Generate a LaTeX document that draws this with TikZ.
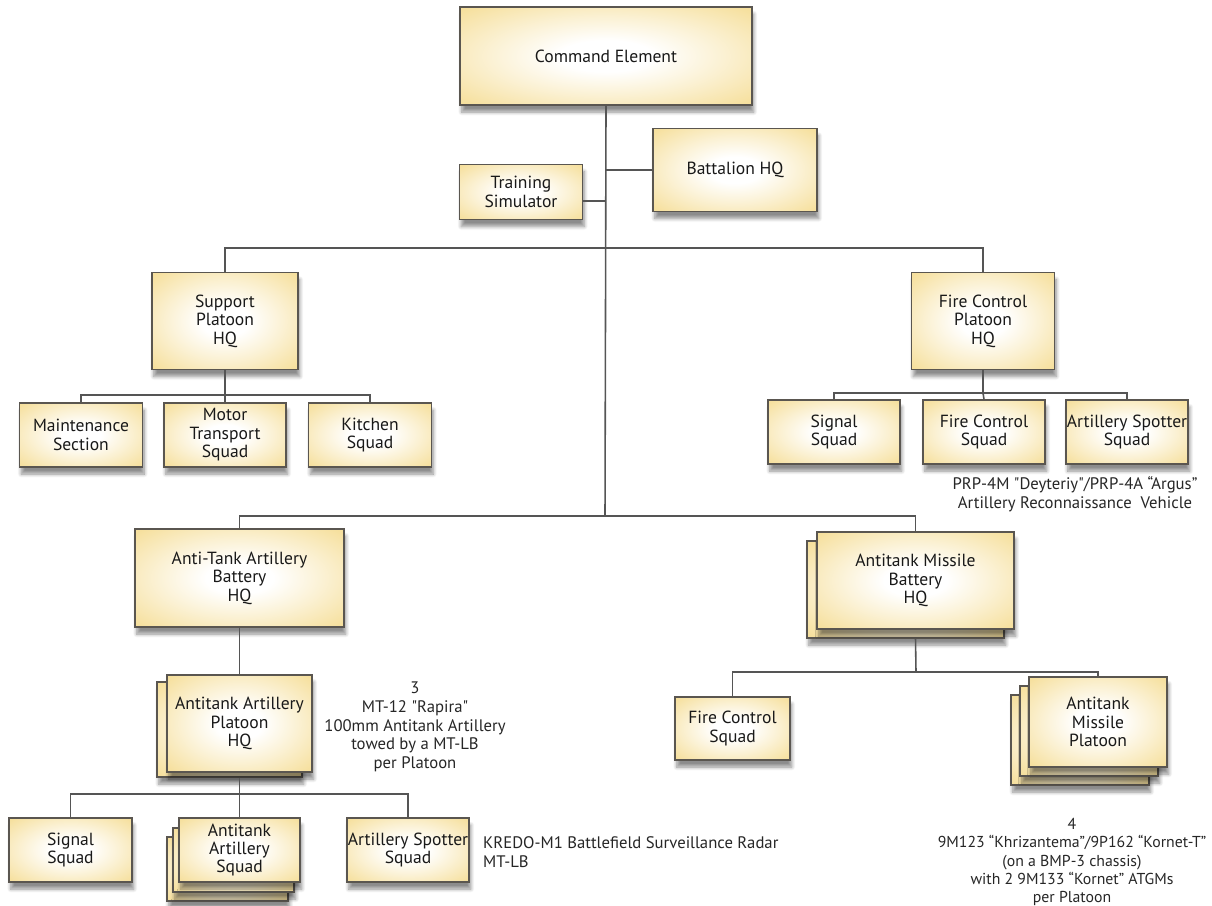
\documentclass[tikz,border=0pt]{standalone}
\usepackage{fontspec}
\setmainfont{PT Sans}
\usetikzlibrary{shadows.blur}
\definecolor{boxfill}{RGB}{246,224,158}
\definecolor{boxline}{RGB}{90,86,80}
\definecolor{wire}{RGB}{85,85,85}
\pgfdeclareradialshading{boxglow}{\pgfpoint{0bp}{0bp}}{color(0bp)=(white); color(8bp)=(white); color(20bp)=(white!55!boxfill); color(34bp)=(boxfill); color(50bp)=(boxfill)}

\begin{document}
\begin{tikzpicture}[
    x=0.02cm, y=-0.02cm,
    sz/.style 2 args={minimum width=#1*0.02cm, minimum height=#2*0.02cm},
    unit/.style={draw=boxline, line width=0.8pt, shading=boxglow, align=center, inner sep=0.5pt, font=\fontsize{10}{10.5}\selectfont, text=black!90, blur shadow={shadow xshift=1pt, shadow yshift=-4pt, shadow blur steps=8, shadow opacity=45}},
    link/.style={draw=wire, line width=0.9pt},
    note/.style={align=center, font=\fontsize{9.5}{10.6}\selectfont, text=black!85}
]
\useasboundingbox (0,0) rectangle (1212,905);

% top
\node[unit, sz={292}{98}] (cmd) at (606,56) {Command Element};
\node[unit, sz={164}{83}] (bhq) at (735,170) {Battalion HQ};
\node[unit, sz={123}{55}] (trs) at (521,192) {Training\\Simulator};

% support platoon
\node[unit, sz={146}{97}] (sup) at (225,321) {Support\\Platoon\\HQ};
\node[unit, sz={123}{64}] (mnt) at (81,435) {Maintenance\\Section};
\node[unit, sz={122}{64}] (mts) at (225,435) {Motor\\Transport\\Squad};
\node[unit, sz={123}{64}] (kit) at (370,435) {Kitchen\\Squad};

% fire control platoon
\node[unit, sz={143}{97}] (fcp) at (983,321) {Fire Control\\Platoon\\HQ};
\node[unit, sz={132}{64}] (sig1) at (834,432) {Signal\\Squad};
\node[unit, sz={122}{64}] (fcs1) at (984,432) {Fire Control\\Squad};
\node[unit, sz={121}{64}] (spt1) at (1127,432) {Artillery Spotter\\Squad};
\node[note] (prp) at (1075,494) {PRP-4M \textquotedbl Deyteriy\textquotedbl/PRP-4A “Argus”\\Artillery Reconnaissance\ \ Vehicle};

% anti-tank artillery battery
\node[unit, sz={209}{98}] (atb) at (239.5,578) {Anti-Tank Artillery\\Battery\\HQ};
\node[unit, sz={145}{95}] (atp-b1) at (229.5,729.5) {};
\node[unit, sz={145}{97}] (atp) at (239.5,723.5) {Antitank Artillery\\Platoon\\HQ};
\node[note] (mt12) at (415,727) {3\\MT-12 \textquotedbl Rapira\textquotedbl\\100mm Antitank Artillery\\towed by a MT-LB\\per Platoon};
\node[unit, sz={123}{64}] (sig2) at (70.5,850) {Signal\\Squad};
\node[unit, sz={121}{64}] (ats-b2) at (227.5,869) {};
\node[unit, sz={121}{64}] (ats-b1) at (233.5,860) {};
\node[unit, sz={121}{64}] (ats) at (239.5,850) {Antitank\\Artillery\\Squad};
\node[unit, sz={122}{64}] (spt2) at (408,850) {Artillery Spotter\\Squad};
\node[note, align=left, anchor=west] (kredo) at (477,852) {KREDO-M1 Battlefield Surveillance Radar\\MT-LB};

% antitank missile battery
\node[unit, sz={197}{97}] (amb-b1) at (905.5,589.5) {};
\node[unit, sz={197}{97}] (amb) at (915.5,580.5) {Antitank Missile\\Battery\\HQ};
\node[unit, sz={115}{63}] (fcs2) at (732.5,728.5) {Fire Control\\Squad};
\node[unit, sz={138}{90}] (amp-b2) at (1080,740) {};
\node[unit, sz={138}{90}] (amp-b1) at (1089,731) {};
\node[unit, sz={138}{90}] (amp) at (1098,722) {Antitank\\Missile\\Platoon};
\node[note, font=\fontsize{9}{10.4}\selectfont] (kornet) at (1072,862) {4\\9M123 “Khrizantema”/9P162 “Kornet-T”\\(on a BMP-3 chassis)\\with 2 9M133 “Kornet” ATGMs\\per Platoon};

% connectors
\coordinate (upbus) at (605,248);
\coordinate (lowbus) at (605,516);
\coordinate (supbus) at (225,395);
\coordinate (fcpbus) at (983,393);
\coordinate (ambbus) at (916,672);
\coordinate (atpbus) at (239.5,794);
\draw[link] (cmd.south) -- (lowbus);
\draw[link] (bhq.west) -- (bhq.west -| cmd.south);
\draw[link] ([yshift=-5]trs.east) -- ([yshift=-5]trs.east -| cmd.south);
\draw[link] (sup.north) |- (upbus) -| (fcp.north);
\draw[link] (atb.north) |- (lowbus) -| (amb.north);
\draw[link] (sup.south) -- (supbus);
\draw[link] (mnt.north) |- (supbus) -| (kit.north);
\draw[link] (supbus) -- (mts.north);
\draw[link] (fcp.south) -- (fcpbus);
\draw[link] (sig1.north) |- (fcpbus) -| (spt1.north);
\draw[link] (fcpbus) -- (fcs1.north);
\draw[link] (atb.south) -- (atp.north);
\draw[link] (atp.south |- atp-b1.south) -- (atpbus);
\draw[link] (sig2.north) |- (atpbus) -| (spt2.north);
\draw[link] (atpbus) -- (ats.north);
\draw[link] (amb.south |- amb-b1.south) -- (ambbus);
\draw[link] (fcs2.north) |- (ambbus) -| (amp.north);
\end{tikzpicture}
\end{document}
